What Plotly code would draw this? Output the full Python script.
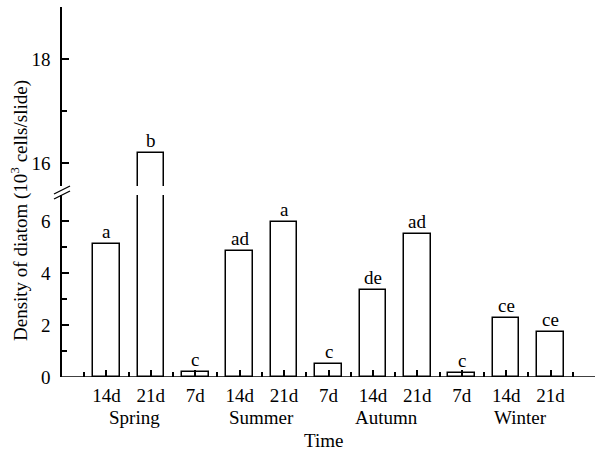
import plotly.graph_objects as go

# ---- data ----
periods = ["14d", "21d", "7d", "14d", "21d", "7d", "14d", "21d", "7d", "14d", "21d"]
density = [5.12, 16.19, 0.20, 4.85, 5.97, 0.49, 3.35, 5.50, 0.17, 2.27, 1.74]
letters = ["a", "b", "c", "ad", "a", "c", "de", "ad", "c", "ce", "ce"]
seasons = ["Spring", "Summer", "Autumn", "Winter"]
season_label_x = [1.64, 4.49, 7.31, 10.33]
positions = list(range(1, len(periods) + 1))

FONT = "Liberation Serif, Times New Roman, serif"
FS = 19
W, H = 595, 450
L, R, T, B = 62, 0, 7, 73
pw, ph = W - L - R, H - T - B

def px_x(p):
    return (p - L) / pw

def px_y(p):
    return (H - B - p) / ph

low_range = [0, 7.0]
up_range = [15.56, 19.0]
low_dom = [0, (H - B - 195) / ph]
up_dom = [(H - B - 186) / ph, 1]

fig = go.Figure()
for ax in ["y", "y2"]:
    fig.add_trace(go.Bar(
        x=positions, y=density, width=0.6, yaxis=ax,
        marker=dict(color="white", line=dict(color="black", width=1.5)),
        showlegend=False, hoverinfo="skip", cliponaxis=True))

txtfont = dict(family=FONT, size=FS, color="black")
annotations = []
for xp, v, lt in zip(positions, density, letters):
    annotations.append(dict(
        x=xp, y=v, xref="x", yref="y2" if v > low_range[1] else "y",
        text=lt, showarrow=False, xanchor="center", yanchor="bottom", yshift=0,
        font=txtfont))
for sx, s in zip(season_label_x, seasons):
    annotations.append(dict(
        x=sx, y=px_y(417), xref="x", yref="paper", text=s, showarrow=False,
        xanchor="center", yanchor="middle", font=txtfont))
annotations.append(dict(
    x=px_x(323), y=px_y(440), xref="paper", yref="paper", text="Time",
    showarrow=False, xanchor="center", yanchor="middle", font=txtfont))
annotations.append(dict(
    x=px_x(20), y=px_y(211), xref="paper", yref="paper",
    text="Density of diatom (10<sup>3</sup> cells/slide)", textangle=-90,
    showarrow=False, xanchor="center", yanchor="middle", font=txtfont))

shapes = []
for dy in (0, 5):
    shapes.append(dict(type="line", xref="paper", yref="paper",
                       x0=px_x(54), y0=px_y(194 + dy), x1=px_x(70), y1=px_y(186 + dy),
                       line=dict(color="black", width=1.3)))
# x-axis baseline drawn at y = 0 so it merges with bar bottoms
shapes.append(dict(type="line", xref="paper", yref="y", x0=-0.0015, x1=1, y0=0, y1=0,
                   line=dict(color="black", width=1.5)))

axis_common = dict(showgrid=False, zeroline=False, linecolor="black",
                   linewidth=1.5, ticks="inside", tickcolor="black", tickwidth=1.5,
                   ticklen=7, automargin=False, tickfont=txtfont)

fig.update_layout(
    width=W, height=H, margin=dict(l=L, r=R, t=T, b=B, autoexpand=False),
    paper_bgcolor="white", plot_bgcolor="white", bargap=0,
    xaxis=dict(range=[0, 12], tickmode="array", tickvals=positions, ticktext=periods,
               showline=False,
               minor=dict(tickvals=[p + 0.5 for p in [0] + positions], ticks="inside",
                          ticklen=5, tickcolor="black", tickwidth=1.5),
               ticklabelstandoff=5, **axis_common),
    yaxis=dict(range=low_range, domain=low_dom, tickvals=[0, 2, 4, 6], showline=True,
               minor=dict(tickvals=[1, 3, 5], ticks="inside", ticklen=5,
                          tickcolor="black", tickwidth=1.5),
               ticklabelstandoff=6, **axis_common),
    yaxis2=dict(range=up_range, domain=up_dom, tickvals=[16, 18], anchor="x", showline=True,
                minor=dict(tickvals=[17], ticks="inside", ticklen=5,
                           tickcolor="black", tickwidth=1.5),
                ticklabelstandoff=6, **axis_common),
    annotations=annotations, shapes=shapes,
)
fig.write_html("out.html", config={"displayModeBar": False},
               post_script="document.body.style.margin='0px';document.body.style.overflow='hidden';")
